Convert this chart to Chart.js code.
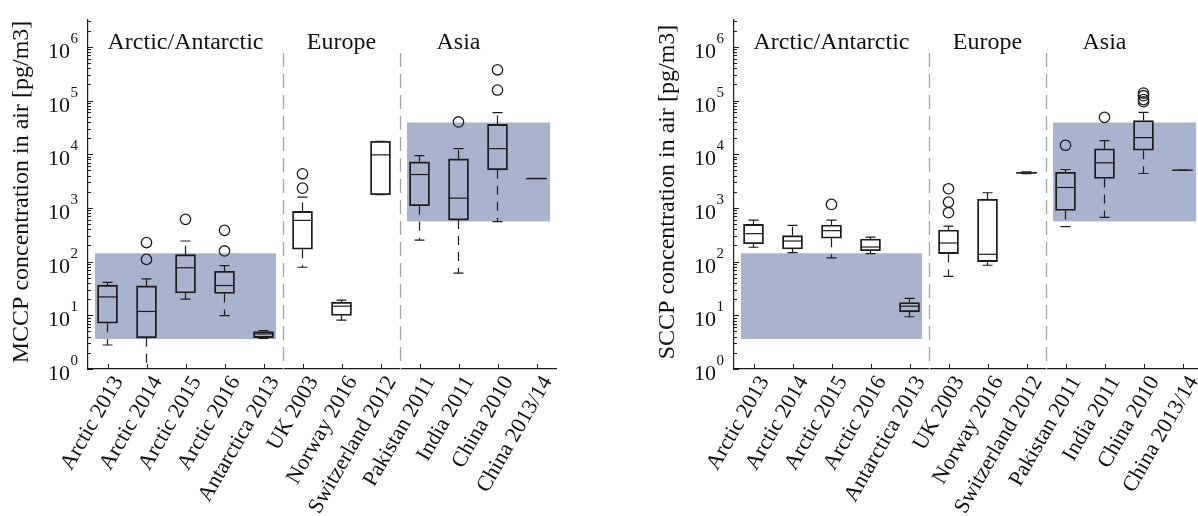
<!DOCTYPE html>
<html>
<head>
<meta charset="utf-8">
<script src="https://cdn.jsdelivr.net/npm/chart.js@4.4.1/dist/chart.umd.min.js"></script>
<style>
  html, body { margin: 0; padding: 0; background: #fff; overflow: hidden; }
  #wrap { position: relative; width: 1198px; height: 516px; overflow: hidden; background: #fff; }
  canvas { position: absolute; top: 0; }
  #mccp { left: 0; }
  #sccp { left: 600px; }
  .warm { font-family: "Liberation Serif"; position: absolute; left: -9999px; top: 0; }
</style>
</head>
<body>
<span class="warm">Arctic 2013</span>
<div id="wrap">
  <canvas id="mccp" width="600" height="516"></canvas>
  <canvas id="sccp" width="610" height="516"></canvas>
</div>
<script>
// Sampling campaigns, grouped by region
const categories = [
  'Arctic 2013', 'Arctic 2014', 'Arctic 2015', 'Arctic 2016', 'Antarctica 2013',
  'UK 2003', 'Norway 2016', 'Switzerland 2012',
  'Pakistan 2011', 'India 2011', 'China 2010', 'China 2013/14'
];
const regionNames = ['Arctic/Antarctic', 'Europe', 'Asia'];
const regionLabelIndex = [2, 6, 9];
const regionDividers = [4.5, 7.5];

// Shaded concentration ranges: [xFrom, xTo] in category index units, [yLow, yHigh] in pg/m3
const bandX = [[-0.32, 4.32], [7.68, 11.35]];
const bandY = [[3.6, 143], [560, 39000]];

// Decade tick exponents for the log axis
const decadeExponents = [0, 1, 2, 3, 4, 5, 6];

// MCCP box statistics (pg/m3)
const mccpLow    = [2.8, 0.5, 20, 9.9, 3.7, 78.5, 8.1, 1760, 252, 61, 555, 3530];
const mccpQ1     = [7.1, 3.8, 26, 25.5, 3.85, 170, 9.9, 1760, 1100, 594, 5130, 3450];
const mccpMedian = [22, 11.8, 77, 35.9, 4.5, 586, 14.8, 9730, 4190, 1520, 12700, 3530];
const mccpQ3     = [36.4, 35.3, 135, 66, 5.0, 861, 17.6, 17400, 7210, 8200, 36000, 3600];
const mccpHigh   = [41, 47.6, 242, 84, 5.2, 1588, 19.1, 17400, 9450, 12700, 59400, 3530];
const mccpOutliers = [[], [110, 226], [612], [158, 382], [], [2333, 4318], [], [], [], [39900], [157000, 374000], []];

// SCCP box statistics (pg/m3)
const sccpLow    = [185, 147, 117, 141, 9.4, 53, 85.6, 4350, 448, 666, 4380, 5040];
const sccpQ1     = [216, 172, 272, 160, 11.6, 141, 100, 4400, 899, 3530, 11900, 4980];
const sccpMedian = [332, 242, 377, 187, 14.8, 222, 137, 4500, 2405, 6920, 20400, 5040];
const sccpQ3     = [494, 305, 480, 264, 17.3, 387, 1459, 4650, 4620, 12600, 42300, 5100];
const sccpHigh   = [594, 473, 594, 287, 20.6, 459, 1918, 4700, 5190, 17900, 60300, 5040];
const sccpOutliers = [[], [], [1162], [], [], [815, 1283, 2277], [], [], [14700], [48600], [95000, 104000, 123000, 138000], []];

const FONT = '"Liberation Serif"';
const INK = '#1c1c1c';

function decorPlugin(stats, yTitle) {
  return {
    id: 'boxDecor',
    beforeDatasetsDraw(chart) {
      const { ctx, chartArea: a, scales: { x, y } } = chart;
      ctx.save();
      ctx.beginPath();
      ctx.rect(a.left, a.top, a.right - a.left, a.bottom - a.top);
      ctx.clip();
      // shaded ranges
      ctx.fillStyle = 'rgb(168,180,203)';
      bandX.forEach((bx, k) => {
        const x0 = x.getPixelForValue(bx[0]);
        const x1 = x.getPixelForValue(bx[1]);
        const y0 = y.getPixelForValue(bandY[k][1]);
        const y1 = y.getPixelForValue(bandY[k][0]);
        ctx.fillRect(x0, y0, x1 - x0, y1 - y0);
      });
      // region dividers
      ctx.strokeStyle = '#a3a3a3';
      ctx.lineWidth = 1.3;
      ctx.setLineDash([14, 7]);
      regionDividers.forEach(d => {
        const px = Math.round(x.getPixelForValue(d)) + 0.5;
        ctx.beginPath();
        ctx.moveTo(px, a.top + 33);
        ctx.lineTo(px, a.bottom);
        ctx.stroke();
      });
      ctx.restore();
    },
    afterDatasetsDraw(chart) {
      const { ctx, chartArea: a, scales: { x, y } } = chart;
      const bars = chart.getDatasetMeta(0).data;
      ctx.save();
      ctx.beginPath();
      ctx.rect(a.left, a.top, a.right - a.left, a.bottom - a.top);
      ctx.clip();
      ctx.strokeStyle = INK;
      ctx.lineWidth = 1.2;
      categories.forEach((c, i) => {
        const cx = x.getPixelForValue(i);
        const half = bars[i].width / 2;
        const yq1 = y.getPixelForValue(stats.q1[i]);
        const yq3 = y.getPixelForValue(stats.q3[i]);
        const ylo = y.getPixelForValue(stats.low[i]);
        const yhi = y.getPixelForValue(stats.high[i]);
        const ymed = y.getPixelForValue(stats.median[i]);
        // whiskers
        ctx.setLineDash([9, 7]);
        if (stats.high[i] > stats.q3[i]) {
          ctx.beginPath(); ctx.moveTo(cx, yq3); ctx.lineTo(cx, yhi); ctx.stroke();
        }
        if (stats.low[i] < stats.q1[i]) {
          ctx.beginPath(); ctx.moveTo(cx, yq1); ctx.lineTo(cx, ylo); ctx.stroke();
        }
        ctx.setLineDash([]);
        // whisker caps
        ctx.beginPath();
        ctx.moveTo(cx - 5, yhi); ctx.lineTo(cx + 5, yhi);
        ctx.moveTo(cx - 5, ylo); ctx.lineTo(cx + 5, ylo);
        ctx.stroke();
        // median
        ctx.beginPath();
        ctx.moveTo(cx - half, ymed); ctx.lineTo(cx + half, ymed);
        ctx.stroke();
      });
      ctx.restore();
    },
    afterDraw(chart) {
      const { ctx, chartArea: a, scales: { x, y } } = chart;
      ctx.save();
      ctx.strokeStyle = INK;
      ctx.lineWidth = 1;
      // inward x ticks
      categories.forEach((c, i) => {
        const px = Math.round(x.getPixelForValue(i)) + 0.5;
        ctx.beginPath(); ctx.moveTo(px, a.bottom); ctx.lineTo(px, a.bottom - 5); ctx.stroke();
      });
      // inward y ticks, major and minor
      const ymax = y.max;
      decadeExponents.forEach(e => {
        const base = Math.pow(10, e);
        const py = Math.round(y.getPixelForValue(base)) + 0.5;
        ctx.beginPath(); ctx.moveTo(a.left, py); ctx.lineTo(a.left + 5, py); ctx.stroke();
        for (let k = 2; k <= 9; k++) {
          const v = k * base;
          if (v > ymax) break;
          const pm = Math.round(y.getPixelForValue(v)) + 0.5;
          ctx.beginPath(); ctx.moveTo(a.left, pm); ctx.lineTo(a.left + 3, pm); ctx.stroke();
        }
      });
      // decade labels 10^n
      ctx.fillStyle = '#111';
      ctx.textBaseline = 'alphabetic';
      decadeExponents.forEach(e => {
        const py = y.getPixelForValue(Math.pow(10, e));
        ctx.font = '15px ' + FONT;
        ctx.textAlign = 'right';
        const sup = String(e);
        const supW = ctx.measureText(sup).width;
        ctx.fillText(sup, a.left - 10, py - 4);
        ctx.font = '22px ' + FONT;
        ctx.fillText('10', a.left - 10 - supW - 0.5, py + 11);
      });
      // rotated category labels
      ctx.font = '22px ' + FONT;
      ctx.textAlign = 'right';
      ctx.textBaseline = 'middle';
      categories.forEach((c, i) => {
        const px = x.getPixelForValue(i);
        ctx.save();
        ctx.translate(px + 11, a.bottom + 9);
        ctx.rotate(-Math.PI / 3);
        ctx.fillText(c, 0, 0);
        ctx.restore();
      });
      // region names
      ctx.font = '24px ' + FONT;
      ctx.textAlign = 'center';
      ctx.textBaseline = 'alphabetic';
      regionNames.forEach((r, k) => {
        ctx.fillText(r, x.getPixelForValue(regionLabelIndex[k]), a.top + 29);
      });
      // axis title
      ctx.save();
      ctx.translate(a.left - 66, 192);
      ctx.rotate(-Math.PI / 2);
      ctx.font = '24px ' + FONT;
      ctx.textAlign = 'center';
      ctx.textBaseline = 'middle';
      ctx.fillText(yTitle, 0, 0);
      ctx.restore();
      ctx.restore();
    }
  };
}

function makeChart(id, stats, yTitle, axisLeft, padRight) {
  const outlierPoints = stats.outliers.flatMap((vals, i) => vals.map(v => ({ x: categories[i], y: v })));
  return new Chart(document.getElementById(id), {
    type: 'bar',
    data: {
      labels: categories,
      datasets: [
        {
          type: 'bar',
          data: categories.map((c, i) => [stats.q1[i], stats.q3[i]]),
          backgroundColor: 'rgba(0,0,0,0)',
          borderColor: INK,
          borderWidth: 1.2,
          borderSkipped: false,
          barThickness: 20
        },
        {
          type: 'line',
          data: outlierPoints,
          showLine: false,
          pointStyle: 'circle',
          pointRadius: 5.2,
          pointBorderWidth: 1.3,
          pointBorderColor: INK,
          pointBackgroundColor: 'rgba(0,0,0,0)'
        }
      ]
    },
    options: {
      responsive: false,
      devicePixelRatio: 1,
      animation: false,
      events: [],
      layout: { padding: { top: 20, right: padRight, left: 0, bottom: 0 } },
      plugins: { legend: { display: false }, tooltip: { enabled: false } },
      scales: {
        x: {
          type: 'category',
          offset: true,
          grid: { display: false },
          border: { display: true, color: INK, width: 1.2 },
          ticks: { display: false },
          afterFit(s) { s.height = 147; }
        },
        y: {
          type: 'logarithmic',
          min: 1,
          max: Math.pow(10, 6.5),
          grid: { display: false },
          border: { display: true, color: INK, width: 1.2 },
          ticks: { display: false },
          afterFit(s) { s.width = axisLeft; }
        }
      }
    },
    plugins: [decorPlugin(stats, yTitle)]
  });
}

function drawAll() {
  makeChart('mccp', {
    low: mccpLow, q1: mccpQ1, median: mccpMedian, q3: mccpQ3, high: mccpHigh, outliers: mccpOutliers
  }, 'MCCP concentration in air [pg/m3]', 88, 44);

  makeChart('sccp', {
    low: sccpLow, q1: sccpQ1, median: sccpMedian, q3: sccpQ3, high: sccpHigh, outliers: sccpOutliers
  }, 'SCCP concentration in air [pg/m3]', 134, 8);
}

Promise.all([
  document.fonts.load('22px "Liberation Serif"'),
  document.fonts.load('24px "Liberation Serif"'),
  document.fonts.load('15px "Liberation Serif"')
]).then(drawAll, drawAll);
</script>
</body>
</html>
